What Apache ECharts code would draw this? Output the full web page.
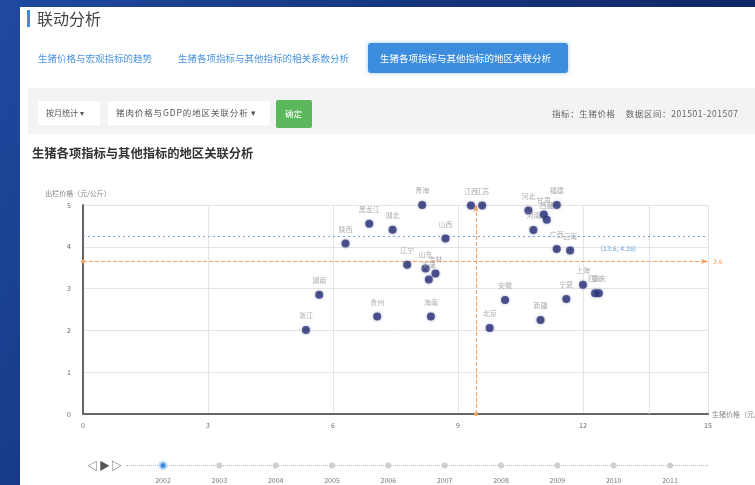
<!DOCTYPE html>
<html><head><meta charset="utf-8">
<script src="https://cdn.jsdelivr.net/npm/echarts@6/dist/echarts.min.js"></script>
<style>
html,body{margin:0;padding:0;width:755px;height:485px;overflow:hidden;font-family:"Noto Sans CJK SC","Noto Sans",sans-serif;}
body{background:linear-gradient(120deg,#1f4aa0 0%,#16357f 40%,#0b1c50 100%);position:relative;}
.wrap{position:absolute;left:0;top:0;width:755px;height:485px;filter:blur(0.4px);}
.panel{position:absolute;left:20px;top:7px;right:0;bottom:0;background:#fff;}
.abs{position:absolute;white-space:nowrap;}
#chart{position:absolute;left:0;top:0;width:755px;height:485px;}
</style></head>
<body>
<div class="wrap">
<div class="panel"></div>
<div class="abs" style="left:27px;top:10px;width:3px;height:17px;background:#3c8dde;"></div>
<div class="abs" style="left:37px;top:6px;font-size:16px;color:#444;">联动分析</div>
<div class="abs" style="left:38px;top:51px;font-size:9.5px;color:#4a94e0;">生猪价格与宏观指标的趋势</div>
<div class="abs" style="left:178px;top:51px;font-size:9.5px;color:#4a94e0;">生猪各项指标与其他指标的相关系数分析</div>
<div class="abs" style="left:368px;top:43px;width:200px;height:30px;background:#3c8dde;border-radius:3px;box-shadow:0 0 4px #9cc8f0;"></div>
<div class="abs" style="left:380px;top:51px;font-size:9.5px;color:#fff;">生猪各项指标与其他指标的地区关联分析</div>
<div class="abs" style="left:28px;top:88px;right:0;height:46px;background:#f3f3f3;"></div>
<div class="abs" style="left:38px;top:101px;width:62px;height:24px;background:#fff;"></div>
<div class="abs" style="left:46px;top:107px;font-size:8px;color:#555;">按月统计 ▾</div>
<div class="abs" style="left:108px;top:101px;width:162px;height:24px;background:#fff;"></div>
<div class="abs" style="left:116px;top:106px;font-size:8.5px;color:#555;letter-spacing:0.9px;">猪肉价格与GDP的地区关联分析 ▾</div>
<div class="abs" style="left:276px;top:100px;width:36px;height:28px;background:#5cb85c;border-radius:2px;"></div>
<div class="abs" style="left:285px;top:107px;font-size:8.5px;color:#fff;">确定</div>
<div class="abs" style="left:552px;top:107px;font-size:8.5px;color:#666;letter-spacing:0.6px;">指标：生猪价格&nbsp;&nbsp;&nbsp;&nbsp;数据区间：201501-201507</div>
<div class="abs" style="left:32px;top:144px;font-size:12.3px;color:#333;font-weight:bold;">生猪各项指标与其他指标的地区关联分析</div>
<div class="abs" style="left:126px;top:465px;width:582px;border-top:1px dotted #bbb;"></div>
<div class="abs" style="left:87px;top:457px;font-size:11px;color:#555;letter-spacing:1px;">◁▶▷</div>
<div id="chart"></div>
</div>
<script>
var provinces = ['浙江','湖南','陕西','黑龙江','湖北','青海','山西','辽宁','山东','吉林','天津','贵州','海南','江西','江苏','北京','安徽','河北','福建','甘肃','西藏','河南','广西','云南','上海','四川','重庆','宁夏','新疆'];
var xValues = [5.35,5.67,6.30,6.87,7.43,8.14,8.70,7.78,8.22,8.46,8.30,7.06,8.35,9.31,9.58,9.76,10.13,10.69,11.37,11.06,11.13,10.81,11.37,11.69,12.00,12.29,12.38,11.60,10.98];
var yValues = [2.01,2.85,4.08,4.55,4.41,5.00,4.20,3.57,3.48,3.36,3.22,2.33,2.33,4.99,4.99,2.06,2.73,4.87,5.00,4.77,4.65,4.40,3.95,3.91,3.09,2.89,2.89,2.75,2.25];
var years = ['2002','2003','2004','2005','2006','2007','2008','2009','2010','2011'];
var xTicks = [0,3,6,9,12,15];
var yTicks = [0,1,2,3,4,5];
var avgLine = [9.43, 3.65];
var refPoint = [13.6, 4.26];

var points = provinces.map(function(n,i){ return {name:n, value:[xValues[i], yValues[i]]}; });
var orange = '#f5a061';
var tlLabel = {color:'#777', fontSize:7, position:11};

var chart = echarts.init(document.getElementById('chart'));
chart.setOption({
  baseOption: {
    animation:false,
    textStyle:{fontFamily:'"Noto Sans CJK SC","Noto Sans",sans-serif'},
    timeline: {
      axisType:'category', data: years, currentIndex:0, autoPlay:false,
      left: 163, right: 85, top: 461, height: 20, padding:0,
      controlStyle:{show:false},
      symbolSize: 6,
      lineStyle:{show:false},
      itemStyle:{color:'#cfcfcf'},
      checkpointStyle:{color:'#3c8dde', borderColor:'#b9d8f5', borderWidth:2, symbolSize:7, animation:false},
      label:tlLabel,
      progress:{label:tlLabel, itemStyle:{color:'#cfcfcf'}, lineStyle:{show:false}},
      emphasis:{label:tlLabel, itemStyle:{color:'#cfcfcf'}}
    },
    grid:{left:83, right:47, top:205, bottom:71, containLabel:false, outerBoundsMode:'none'},
    xAxis:{
      type:'value', min:xTicks[0], max:xTicks[xTicks.length-1], interval:3,
      name:'生猪价格（元/公斤）', nameLocation:'end', nameGap:4,
      nameTextStyle:{color:'#888', fontSize:7, align:'left'},
      axisLine:{lineStyle:{color:'#666', width:2}},
      axisTick:{show:false},
      axisLabel:{color:'#666', fontSize:7, margin:8},
      splitLine:{lineStyle:{color:'#e4e4e4'}}
    },
    yAxis:{
      type:'value', min:yTicks[0], max:yTicks[yTicks.length-1], interval:1,
      name:'出栏价格（元/公斤）', nameLocation:'end', nameGap:8,
      nameTextStyle:{color:'#888', fontSize:7, align:'center', padding:[0,0,0,-10]},
      axisLine:{show:true, lineStyle:{color:'#666', width:2}},
      axisTick:{show:false},
      axisLabel:{color:'#666', fontSize:7, margin:12},
      splitLine:{lineStyle:{color:'#e4e4e4'}}
    },
    series:[
      {
        type:'scatter', symbolSize:8, clip:false, z:5,
        itemStyle:{color:'#2c3578', shadowBlur:3, shadowColor:'rgba(40,50,130,0.5)'},
        label:{show:true, position:'top', distance:7, formatter:'{b}', color:'#999', fontSize:7}
      },
      {
        type:'scatter', data:[], z:2,
        markLine:{silent:true, symbol:['circle','arrow'], symbolSize:[4,7],
          lineStyle:{color:orange, type:'dashed', width:1},
          label:{show:true, color:orange, fontSize:7, position:'end', formatter:function(p){return p.value.toFixed(1);}},
          data:[{xAxis:avgLine[0], label:{show:false}}, {yAxis:avgLine[1]}]}
      },
      {
        type:'scatter', data:[], z:2,
        markLine:{silent:true, symbol:'none', lineStyle:{color:'#6fa8e0', type:[2,3], width:1}, label:{show:false},
          data:[{yAxis:refPoint[1]}]}
      },
      {
        type:'scatter', data:[], z:2,
        markLine:{silent:true, symbol:'none', lineStyle:{color:'#c4c4d6', type:'dotted', width:1}, label:{show:false},
          data:[{xAxis:refPoint[0]}]},
        markPoint:{silent:true, symbol:'circle', symbolSize:1, itemStyle:{color:'transparent'},
          data:[{coord:refPoint, label:{show:true, formatter:'(' + refPoint[0] + ', ' + refPoint[1] + ')', color:'#6aa6dd', fontSize:7, position:'left', offset:[-8,12]}}]}
      }
    ]
  },
  options:[{series:[{data:points}]}]
});
</script>
</body></html>
